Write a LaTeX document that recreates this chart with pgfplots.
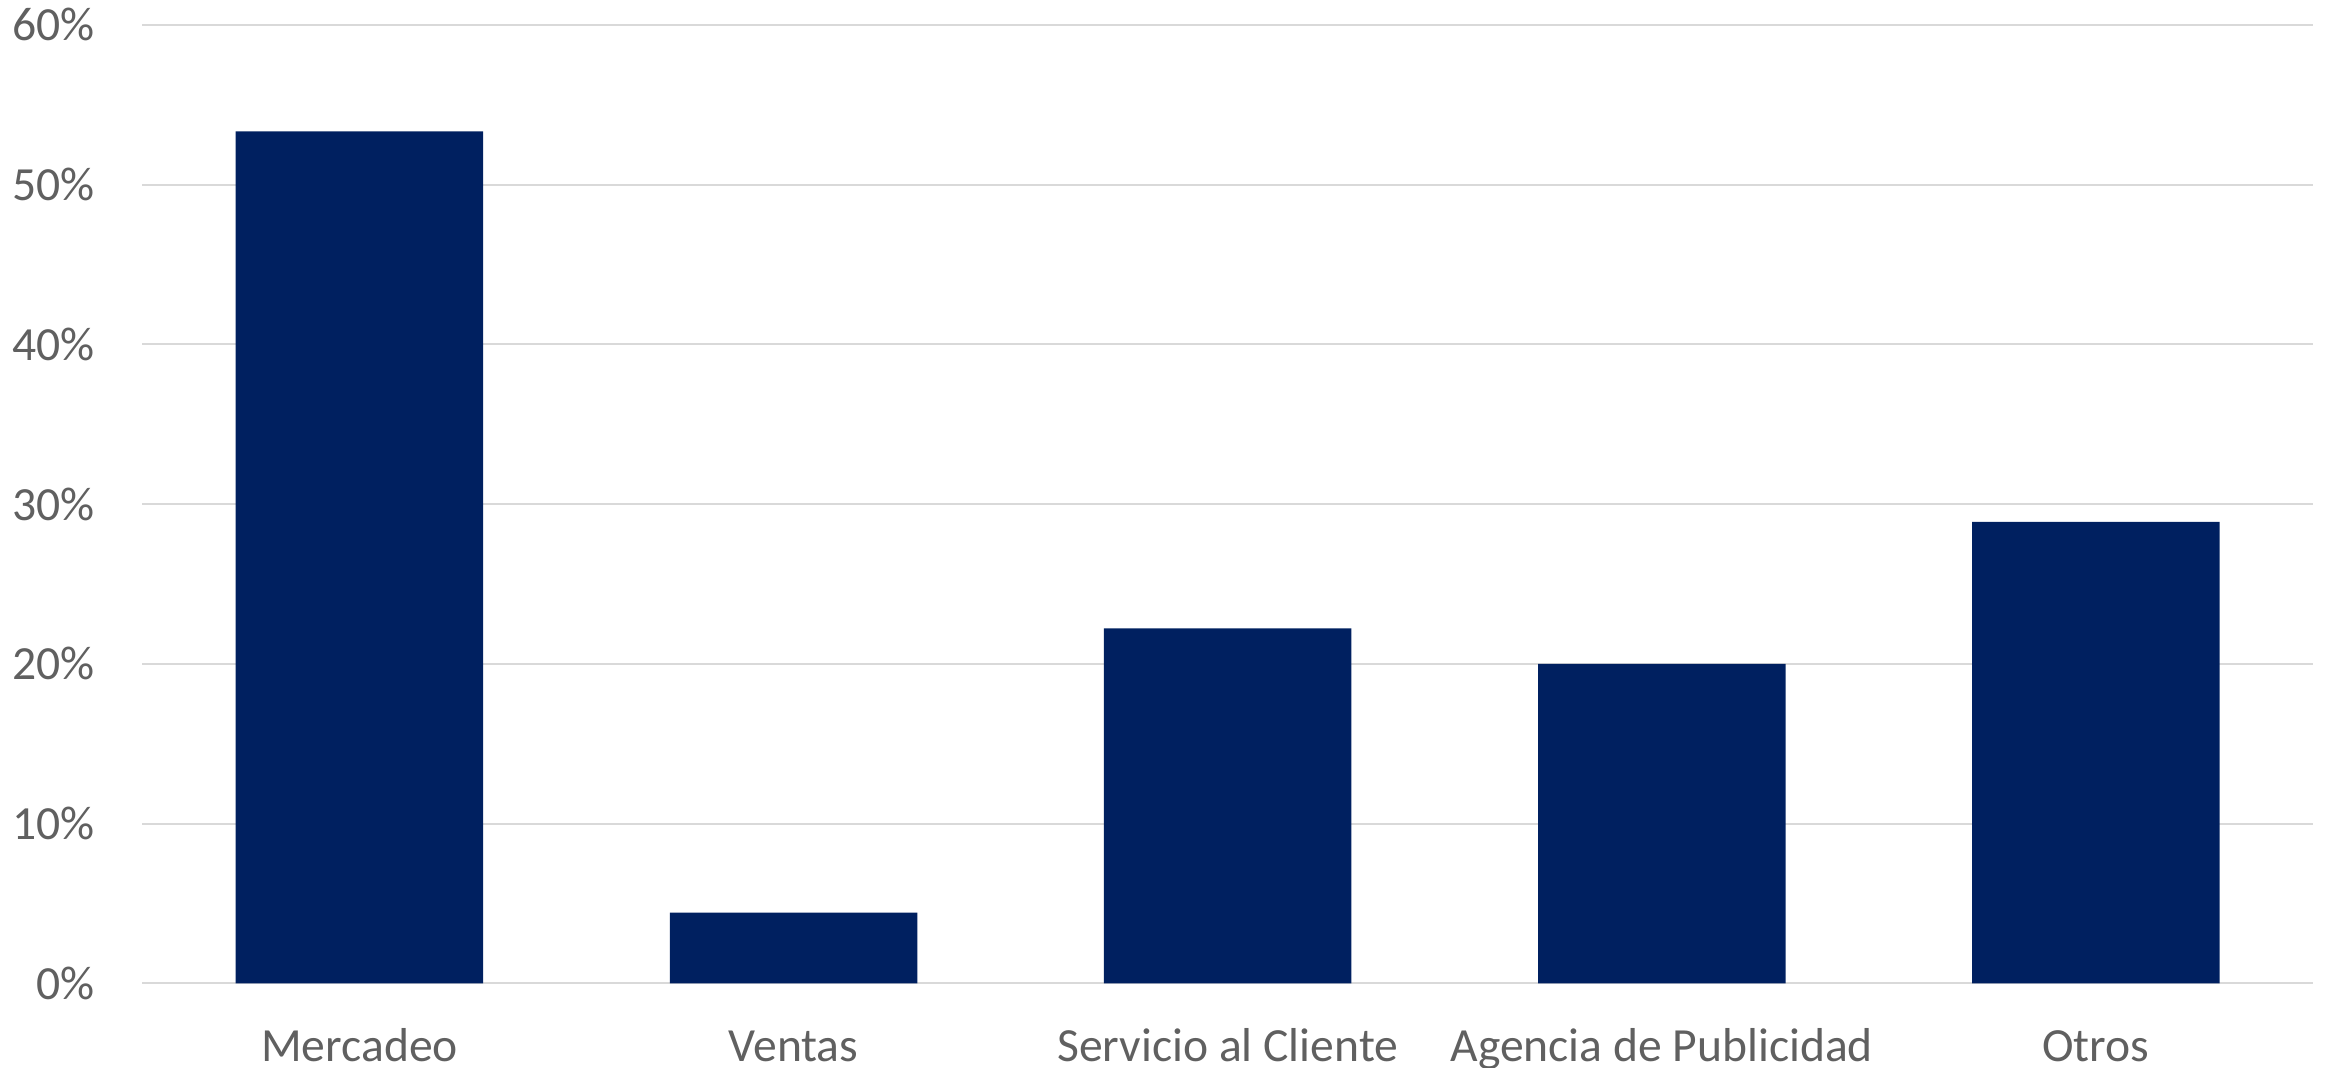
\documentclass[border=0pt]{standalone}
\usepackage{pgfplots}
\pgfplotsset{compat=1.18}
\usepackage{fontspec}
\setmainfont{Carlito}
\definecolor{barblue}{RGB}{0,32,96}
\definecolor{gridgray}{RGB}{217,217,217}
\definecolor{txtgray}{RGB}{96,96,96}
\begin{document}
\begin{tikzpicture}
\begin{axis}[
  scale only axis,
  width=542.7bp, height=239.7bp,
  xmin=-0.5, xmax=4.5,
  ymin=0, ymax=60,
  axis x line*=bottom, axis y line*=left,
  axis line style={draw=none},
  major tick length=0pt,
  ytick={0,10,20,30,40,50,60},
  yticklabels={0\%,10\%,20\%,30\%,40\%,50\%,60\%},
  xtick={0,1,2,3,4},
  xticklabels={Mercadeo,Ventas,Servicio al Cliente,Agencia de Publicidad,Otros},
  ymajorgrids,
  grid style={draw=gridgray, line width=0.5bp},
  tick label style={font=\fontsize{11.9bp}{14bp}\selectfont, text=txtgray, inner sep=0pt},
  yticklabel style={anchor=east, xshift=-11.7bp},
  xticklabel style={anchor=base, yshift=-19.4bp},
  ybar, bar width=61.9bp,
  clip=false,
]
\addplot[draw=none, fill=barblue] coordinates {
  (0,53.33) (1,4.44) (2,22.22) (3,20.00) (4,28.89)
};
\end{axis}
\pgfresetboundingbox
\path ([xshift=-35.6bp,yshift=-21.0bp]current axis.south west) rectangle ([xshift=3bp,yshift=6.2bp]current axis.north east);
\end{tikzpicture}
\end{document}
